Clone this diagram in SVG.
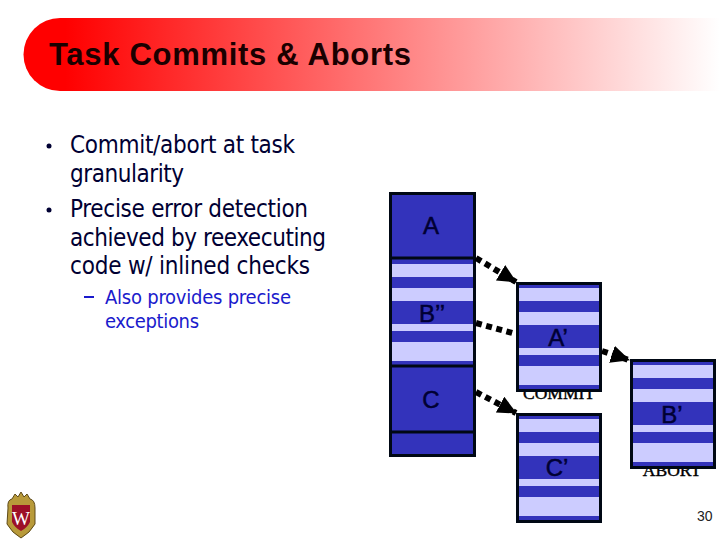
<svg xmlns="http://www.w3.org/2000/svg" width="720" height="540" viewBox="0 0 720 540">
<defs>
<linearGradient id="band" x1="0" y1="0" x2="1" y2="0"><stop offset="0" stop-color="#ff0000"/><stop offset="0.06" stop-color="#ff0000"/><stop offset="1" stop-color="#ffffff"/></linearGradient>
<marker id="arrow" markerUnits="userSpaceOnUse" markerWidth="22" markerHeight="20" refX="18" refY="9" orient="auto"><path d="M0 0L19 9L0 18Z" fill="#000"/></marker>
<g id="stripes">
<rect width="86" height="110" fill="#3333bb"/>
<rect x="3" y="6" width="80" height="13" fill="#ccccff"/>
<rect x="3" y="30" width="80" height="13" fill="#ccccff"/>
<rect x="3" y="66" width="80" height="7" fill="#ccccff"/>
<rect x="3" y="84" width="80" height="19" fill="#ccccff"/>
<rect x="1.5" y="1.5" width="83" height="107" fill="none" stroke="#000814" stroke-width="3"/>
</g>
</defs>
<style>
text{font-family:"Liberation Sans",Arial,sans-serif}
.body{font-family:"DejaVu Sans",sans-serif;font-stretch:condensed;font-size:24px;fill:#000033}
.sub{font-family:"DejaVu Sans",sans-serif;font-stretch:condensed;font-size:20px;fill:#1a1acc}
.lab{font-size:24px;fill:#000033;stroke:#000033;stroke-width:.5;text-anchor:middle}
.ser{font-family:"Liberation Serif",serif;font-size:17.5px;fill:#000;stroke:#000;stroke-width:.4;text-anchor:middle}
.conn{fill:none;stroke:#000;stroke-width:6;stroke-dasharray:6 4.5}
</style>
<path d="M720 18H60A36.500 36.500 0 0 0 60 91H720Z" fill="url(#band)"/>
<text x="49" y="65" font-size="31" font-weight="bold" fill="#1a0000" textLength="362">Task Commits &amp; Aborts</text>

<g id="bullets">
<circle cx="49" cy="146" r="2.500" fill="#000033"/>
<text class="body" x="70" y="153" textLength="225">Commit/abort at task</text>
<text class="body" x="70" y="182" textLength="114">granularity</text>
<circle cx="49" cy="210" r="2.500" fill="#000033"/>
<text class="body" x="70" y="217" textLength="238">Precise error detection</text>
<text class="body" x="70" y="246" textLength="256">achieved by reexecuting</text>
<text class="body" x="70" y="274" textLength="240">code w/ inlined checks</text>
<rect x="84" y="296" width="10" height="2" fill="#1a1acc"/>
<text class="sub" x="105" y="304" textLength="186">Also provides precise</text>
<text class="sub" x="105" y="328" textLength="94">exceptions</text>
</g>

<text class="ser" x="559" y="399" id="commit">COMMIT</text>
<text class="ser" x="672" y="476" id="abort">ABORT</text>

<g id="stack-main">
<rect x="389" y="192" width="87" height="265" fill="#3333bb"/>
<rect x="392" y="264" width="81" height="13" fill="#ccccff"/>
<rect x="392" y="288" width="81" height="13" fill="#ccccff"/>
<rect x="392" y="324" width="81" height="7" fill="#ccccff"/>
<rect x="392" y="342" width="81" height="19" fill="#ccccff"/>
<rect x="390.500" y="193.500" width="84" height="262" fill="none" stroke="#000814" stroke-width="3"/>
<path d="M390 258H475M390 366H475M390 432H475" stroke="#000814" stroke-width="3"/>
<text class="lab" x="431" y="234">A</text>
<text class="lab" x="432" y="322">B’’</text>
<text class="lab" x="431" y="408">C</text>
</g>
<g id="stack-a"><use href="#stripes" x="516" y="282"/><text class="lab" x="558" y="346">A’</text></g>
<g id="stack-c"><use href="#stripes" x="516" y="413"/><text class="lab" x="557" y="476">C’</text></g>
<g id="stack-b"><use href="#stripes" x="630" y="359"/><text class="lab" x="672" y="423">B’</text></g>

<g id="connectors">
<path class="conn" d="M476 258L516 282" marker-end="url(#arrow)"/>
<path class="conn" d="M476 323L516 334"/>
<path class="conn" d="M476 392L516 413" marker-end="url(#arrow)"/>
<path class="conn" d="M602 351L629 360" marker-end="url(#arrow)"/>
</g>

<g id="crest">
<path d="M8 508Q7 500 12 499L15 494L18 497L21 492L24 497L27 494L30 499Q35 500 35 508L35 524Q30 533 21 538Q12 533 7 524Z" fill="#b89a3a" stroke="#5e4a18" stroke-width="1"/>
<path d="M12 505H30L30 522Q27 528 21 531Q15 528 12 522Z" fill="#9c1028"/>
<text x="21" y="525" font-size="19" fill="#fff" text-anchor="middle" style="font-family:'Liberation Serif',serif">W</text>
</g>
<text x="697" y="521" font-size="14" fill="#222">30</text>
</svg>
